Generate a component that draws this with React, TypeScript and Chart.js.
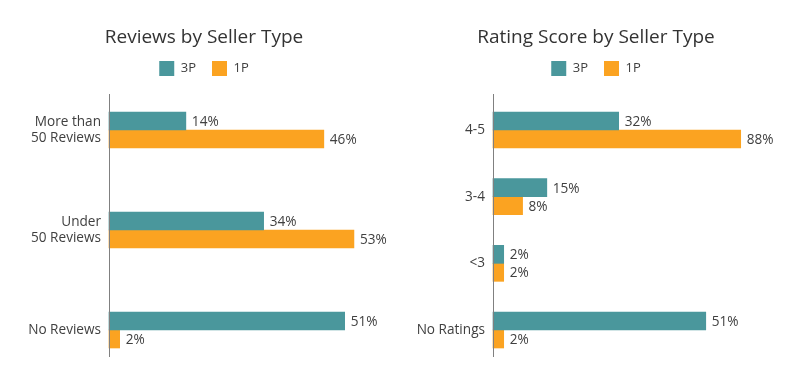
import React, { useEffect, useRef } from "react";
import { Chart, registerables } from "chart.js";

Chart.register(...registerables);

const FONT = '"Open Sans", "Noto Sans", sans-serif';

const seriesNames = ["3P", "1P"];
const seriesColors = ["#4a979c", "#fba321"];

const reviewCategories = [["More than", "50 Reviews"], ["Under", "50 Reviews"], "No Reviews"];
const reviews3P = [16.6, 33.4, 50.9];
const reviews1P = [46.4, 52.9, 2.3];
const reviews3PLabels = ["14%", "34%", "51%"];
const reviews1PLabels = ["46%", "53%", "2%"];

const ratingCategories = ["4-5", "3-4", "<3", "No Ratings"];
const ratings3P = [44.6, 19.1, 3.8, 75.5];
const ratings1P = [87.9, 10.5, 3.8, 3.8];
const ratings3PLabels = ["32%", "15%", "2%", "51%"];
const ratings1PLabels = ["88%", "8%", "2%", "2%"];

const valueLabelPlugin = {
  id: "valueLabels",
  afterDatasetsDraw(chart: any) {
    const ctx = chart.ctx;
    const texts = chart.options.plugins.valueLabels.texts;
    ctx.save();
    ctx.font = `13.6px ${FONT}`;
    ctx.fillStyle = "#404040";
    ctx.textAlign = "left";
    ctx.textBaseline = "middle";
    chart.data.datasets.forEach((ds: any, di: number) => {
      const meta = chart.getDatasetMeta(di);
      meta.data.forEach((bar: any, i: number) => {
        ctx.fillText(texts[di][i], bar.x + 6, bar.y + 1);
      });
    });
    ctx.restore();
  },
};

const axisLinePlugin = {
  id: "axisLine",
  afterDatasetsDraw(chart: any) {
    const ctx = chart.ctx;
    const y = chart.scales.y;
    const n = chart.data.labels.length;
    const top = y.getPixelForValue(0) - 36;
    const bottom = y.getPixelForValue(n - 1) + 27;
    const x = Math.round(chart.chartArea.left) + 0.5;
    ctx.save();
    ctx.strokeStyle = "#808080";
    ctx.lineWidth = 1;
    ctx.beginPath();
    ctx.moveTo(x, top);
    ctx.lineTo(x, bottom);
    ctx.stroke();
    ctx.restore();
  },
};

function BarPanel(props: {
  title: string;
  categories: any[];
  values: number[][];
  texts: string[][];
  max: number;
  axisWidth: number;
}) {
  const ref = useRef<HTMLCanvasElement>(null);
  useEffect(() => {
    if (!ref.current) return;
    const chart = new Chart(ref.current, {
      type: "bar",
      data: {
        labels: props.categories,
        datasets: props.values.map((v, i) => ({
          label: seriesNames[i],
          data: v,
          backgroundColor: seriesColors[i],
          borderWidth: 0,
          barThickness: 18,
          clip: false,
        })),
      },
      options: {
        indexAxis: "y",
        responsive: false,
        animation: false,
        layout: { padding: { top: 0, right: 0, bottom: 50, left: 0 } },
        plugins: {
          title: {
            display: true,
            text: props.title,
            color: "#333333",
            font: { family: FONT, size: 19, weight: "normal" },
            padding: { top: 26.6, bottom: -4.4 },
          },
          legend: {
            display: true,
            labels: {
              boxWidth: 15,
              boxHeight: 15,
              padding: 16,
              color: "#404040",
              font: { family: FONT, size: 13 },
            },
          },
          tooltip: { enabled: false },
          valueLabels: { texts: props.texts },
        } as any,
        scales: {
          x: {
            position: "top",
            min: 0,
            max: props.max,
            ticks: { display: false },
            grid: { display: false, drawTicks: false },
            border: { display: false },
            afterFit: (s: any) => {
              s.height = 44;
            },
          },
          y: {
            offset: false,
            grid: { display: false, drawTicks: false },
            border: { display: false },
            ticks: {
              padding: 8,
              color: "#404040",
              font: { family: FONT, size: 13.6 },
            },
            afterFit: (s: any) => {
              s.width = props.axisWidth;
            },
          },
        },
      } as any,
      plugins: [valueLabelPlugin, axisLinePlugin],
    });
    return () => chart.destroy();
  }, []);
  return <canvas ref={ref} width={392} height={380} />;
}

export default function App() {
  return (
    <div
      style={{
        position: "fixed",
        left: 0,
        top: 0,
        width: 800,
        height: 380,
        background: "#ffffff",
        overflow: "hidden",
      }}
    >
      <div style={{ position: "absolute", left: 8, top: 0 }}>
        <BarPanel
          title="Reviews by Seller Type"
          categories={reviewCategories}
          values={[reviews3P, reviews1P]}
          texts={[reviews3PLabels, reviews1PLabels]}
          max={62.85}
          axisWidth={101}
        />
      </div>
      <div style={{ position: "absolute", left: 400, top: 0 }}>
        <BarPanel
          title="Rating Score by Seller Type"
          categories={ratingCategories}
          values={[ratings3P, ratings1P]}
          texts={[ratings3PLabels, ratings1PLabels]}
          max={106.1}
          axisWidth={93}
        />
      </div>
    </div>
  );
}
